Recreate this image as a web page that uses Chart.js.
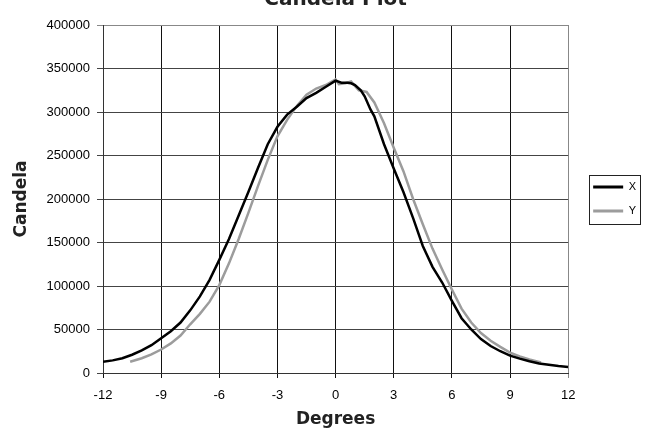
<!DOCTYPE html>
<html>
<head>
<meta charset="utf-8">
<script src="https://cdn.jsdelivr.net/npm/chart.js@4"></script>
<style>
    html, body { margin: 0; padding: 0; background: #fff; overflow: hidden; }
    #wrap { position: absolute; left: 0; top: -16px; width: 646px; height: 448px; }
</style>
</head>
<body>
<div id="wrap"><canvas id="candelaChart" width="646" height="448"></canvas></div>
<script>
// X 방향 측정값
const xDegrees = [-12, -11.5, -11, -10.5, -10, -9.5, -9, -8.5, -8, -7.5, -7, -6.5, -6, -5.5, -5, -4.5, -4, -3.5, -3, -2.5, -2, -1.5, -1, -0.5,
    0, 0.3, 0.6, 0.8, 1, 1.3, 1.5, 1.8, 2, 2.5, 3, 3.5, 4, 4.5, 5, 5.5, 6, 6.5, 7, 7.5, 8, 8.5, 9, 9.5, 10, 10.5, 11, 11.5, 12];
const xCandela = [13000, 14500, 17000, 21000, 26000, 32000, 40000, 48000, 58000, 72000, 88000, 107000, 130000, 154000, 181000, 208000, 236000, 263000, 283000, 297000, 306000, 316000, 322000, 329000,
    336000, 333600, 333600, 333000, 331000, 325000, 318000, 303000, 295000, 263000, 235000, 208000, 178000, 146000, 122000, 104000, 83000, 63000, 50000, 39000, 31000, 25000, 20000, 16500, 13500, 11000, 9500, 8000, 7000];

// Y 방향 측정값
const yDegrees = [-10.6, -10, -9.5, -9, -8.5, -8, -7.5, -7, -6.5, -6, -5.5, -5, -4.5, -4, -3.5, -3, -2.5, -2, -1.5, -1, -0.5,
    0, 0.17, 0.5, 0.8, 1.2, 1.6, 2, 2.5, 3, 3.5, 4, 4.5, 5, 5.5, 6, 6.5, 7, 7.5, 8, 8.5, 9, 9.5, 10, 10.6];
const yCandela = [13000, 17000, 21500, 27000, 34000, 43000, 56000, 68000, 82000, 101000, 126000, 154000, 184000, 215000, 245000, 272000, 291000, 307000, 320000, 327000, 331000,
    337500, 332000, 333000, 335000, 325000, 323000, 311000, 287000, 259000, 232000, 200000, 171000, 143000, 119000, 96000, 74000, 58000, 46000, 37000, 30000, 23500, 19000, 15500, 12000];

const seriesNames = ['X', 'Y'];
const seriesColors = ['#000000', '#9c9c9c'];

const degreeMin = -12, degreeMax = 12, degreeStep = 3;
const candelaMin = 0, candelaMax = 400000, candelaStep = 50000;

// 범례 테두리
const legendFrame = {
    id: 'legendFrame',
    afterDraw(chart) {
        const boxes = chart.legend.legendHitBoxes;
        if (!boxes || !boxes.length) return;
        const left = Math.min(...boxes.map(b => b.left)) - 4;
        const right = Math.max(...boxes.map(b => b.left + b.width)) + 4;
        const top = Math.min(...boxes.map(b => b.top)) - 7;
        const bottom = Math.max(...boxes.map(b => b.top + b.height)) + 7;
        const c = chart.ctx;
        c.save();
        c.strokeStyle = '#222';
        c.lineWidth = 1;
        c.strokeRect(Math.round(left) + 0.5, Math.round(top) + 0.5, Math.round(right - left), Math.round(bottom - top));
        c.restore();
    }
};

document.addEventListener("DOMContentLoaded", () => {
    const ctx = document.getElementById("candelaChart").getContext("2d");

    new Chart(ctx, {
        type: 'line',
        data: {
            datasets: [
                {
                    label: seriesNames[0],
                    data: xDegrees.map((d, i) => ({ x: d, y: xCandela[i] })),
                    borderColor: seriesColors[0],
                    backgroundColor: seriesColors[0],
                    borderWidth: 2.5,
                    pointRadius: 0,
                    tension: 0
                },
                {
                    label: seriesNames[1],
                    data: yDegrees.map((d, i) => ({ x: d, y: yCandela[i] })),
                    borderColor: seriesColors[1],
                    backgroundColor: seriesColors[1],
                    borderWidth: 2.5,
                    pointRadius: 0,
                    tension: 0
                }
            ]
        },
        options: {
            responsive: false,
            animation: false,
            devicePixelRatio: 1,
            layout: { padding: { left: 0, right: 0, top: 0, bottom: 0 } },
            plugins: {
                tooltip: { enabled: false },
                title: {
                    display: true,
                    text: 'Candela Plot',
                    fullSize: false,
                    color: '#222',
                    font: { family: 'DejaVu Sans', size: 20, weight: 'bold' },
                    padding: { top: 4, bottom: 13 }
                },
                legend: {
                    position: 'right',
                    fullSize: false,
                    labels: {
                        boxWidth: 30,
                        boxHeight: 3,
                        padding: 13,
                        color: '#000',
                        font: { family: 'Liberation Sans', size: 11 },
                        generateLabels: (chart) => Chart.defaults.plugins.legend.labels.generateLabels(chart)
                            .map(item => Object.assign(item, { lineWidth: 0 }))
                    }
                }
            },
            scales: {
                x: {
                    type: 'linear',
                    min: degreeMin,
                    max: degreeMax,
                    afterFit: (scale) => { scale.height = 59; },
                    ticks: {
                        stepSize: degreeStep,
                        padding: 10,
                        color: '#000',
                        font: { family: 'Liberation Sans', size: 13 },
                        callback: (v) => String(v)
                    },
                    grid: {
                        color: (c) => (c.tick && c.tick.value === degreeMax) ? '#888' : '#111',
                        lineWidth: 1,
                        tickLength: 5
                    },
                    border: { color: '#333', width: 1 },
                    title: {
                        display: true,
                        text: 'Degrees',
                        color: '#222',
                        font: { family: 'DejaVu Sans', size: 17, weight: 'bold' },
                        padding: { top: 0, bottom: 2 }
                    }
                },
                y: {
                    min: candelaMin,
                    max: candelaMax,
                    afterFit: (scale) => { scale.width = 103; },
                    ticks: {
                        stepSize: candelaStep,
                        padding: 7,
                        color: '#000',
                        font: { family: 'Liberation Sans', size: 13 },
                        callback: (v) => String(v)
                    },
                    grid: {
                        color: (c) => (c.tick && c.tick.value === candelaMax) ? '#888' : '#444',
                        lineWidth: 1,
                        tickLength: 6
                    },
                    border: { color: '#333', width: 1 },
                    title: {
                        display: true,
                        text: 'Candela',
                        color: '#222',
                        font: { family: 'DejaVu Sans', size: 17, weight: 'bold' },
                        padding: { top: 11, bottom: 0 }
                    }
                },
                // 플롯 영역과 범례 사이 여백
                gap: {
                    type: 'linear',
                    position: 'right',
                    display: true,
                    afterFit: (scale) => { scale.width = 12; },
                    grid: { display: false },
                    ticks: { display: false },
                    border: { display: false }
                }
            }
        },
        plugins: [legendFrame]
    });
});
</script>
</body>
</html>
